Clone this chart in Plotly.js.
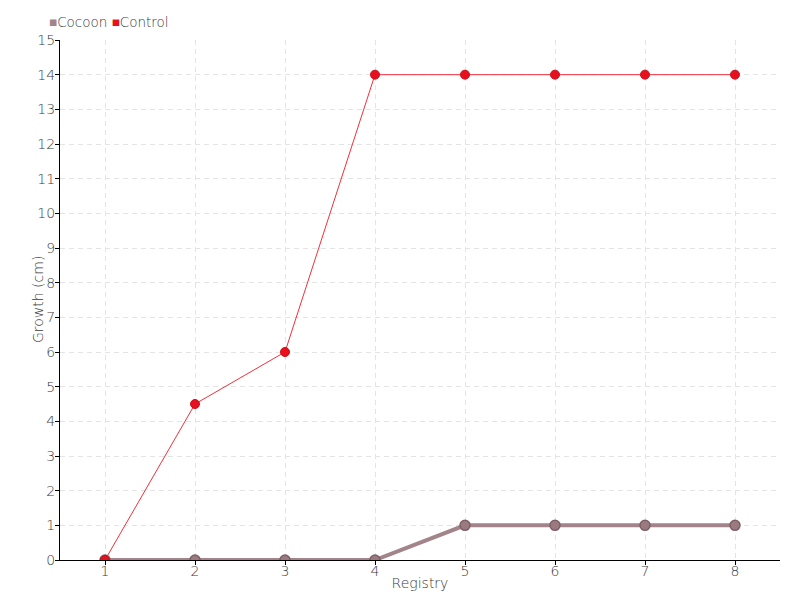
<!DOCTYPE html>
<html><head><meta charset="utf-8">
<script src="https://cdn.plot.ly/plotly-3.0.1.min.js"></script>
<style>body{margin:0;}#chart{width:800px;height:600px;}</style>
</head><body><div id="chart"></div>
<script>
const registry = [1, 2, 3, 4, 5, 6, 7, 8];
const cocoon = [0, 0, 0, 0, 1, 1, 1, 1];
const control = [0, 4.5, 6, 14, 14, 14, 14, 14];
const yTicks = [0,1,2,3,4,5,6,7,8,9,10,11,12,13,14,15];
const seriesNames = ['Cocoon', 'Control'];

const fontFam = '"DejaVu Sans", sans-serif';
const textColor = '#3a3a3a';
const cocoonColor = '#a3848a';
const controlColor = '#e8101e';

const traces = [
  {x: registry, y: cocoon, name: seriesNames[0], type: 'scatter', mode: 'lines+markers', showlegend: false,
   line: {color: cocoonColor, width: 4},
   marker: {color: '#9a7a80', size: 10, line: {color: '#7d6066', width: 1.5}}},
  {x: registry, y: control, name: seriesNames[1], type: 'scatter', mode: 'lines+markers', showlegend: false,
   line: {color: '#f0303c', width: 1},
   marker: {color: controlColor, size: 9, line: {color: '#c8101a', width: 1}}}
];

const legendText = seriesNames.map((n, i) =>
  '<span style="color:' + [cocoonColor, controlColor][i] + '">■</span>' + n).join('&nbsp;');

const tf = {size: 14, color: textColor, weight: 200};

const layout = {
  width: 800, height: 600,
  margin: {l: 60, r: 20, t: 40, b: 40},
  paper_bgcolor: '#fff', plot_bgcolor: '#fff',
  font: {family: fontFam, color: textColor, size: 13, weight: 200},
  showlegend: false,
  annotations: [
    {xref: 'paper', yref: 'paper', x: -0.018, y: 1.0, yshift: 18, xanchor: 'left', yanchor: 'middle',
     showarrow: false, text: legendText, font: {size: 13.5, color: textColor, weight: 200}},
    {xref: 'paper', yref: 'paper', x: 0, xshift: -22, y: 0.5, xanchor: 'center', yanchor: 'middle',
     textangle: -90, showarrow: false, text: 'Growth (cm)', font: tf}
  ],
  xaxis: {range: [0.5, 8.5], tickvals: registry, ticktext: registry.map(String), automargin: false,
          showline: true, linecolor: '#000', linewidth: 1, ticks: 'outside', ticklen: 4, tickcolor: '#000',
          ticklabelstandoff: -6,
          showgrid: true, gridcolor: '#e4e4e4', griddash: '5px,4px', zeroline: false,
          title: {text: 'Registry', standoff: 0, font: tf},
          tickfont: tf},
  yaxis: {range: [0, 15], tickvals: yTicks, automargin: false,
          showline: true, linecolor: '#000', linewidth: 1, ticks: 'outside', ticklen: 4, tickcolor: '#000',
          ticklabelstandoff: -3,
          showgrid: true, gridcolor: '#e4e4e4', griddash: '5px,4px', zeroline: false,
          tickfont: tf}
};

Plotly.newPlot('chart', traces, layout, {displayModeBar: false});
</script></body></html>
